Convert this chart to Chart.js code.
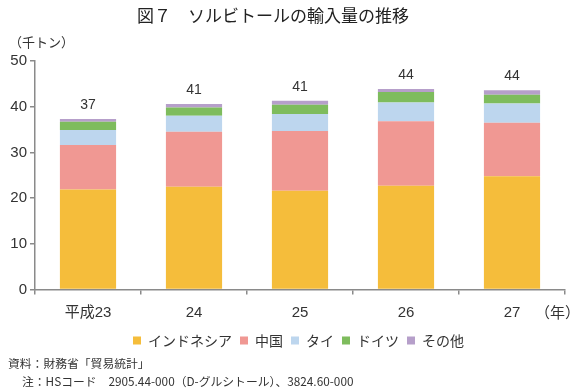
<!DOCTYPE html>
<html>
<head>
<meta charset="utf-8">
<script src="https://cdn.jsdelivr.net/npm/chart.js@4"></script>
<style>
  body { margin: 0; background: #fff; }
  #wrap { position: relative; width: 570px; height: 389px; font-family: "Liberation Sans", "Noto Sans CJK JP", sans-serif; color: #333; }
  .txt { position: absolute; line-height: 1; white-space: nowrap; }
  canvas { position: absolute; left: 0; top: 0; }
</style>
</head>
<body>
<div id="wrap">
  <canvas id="chart" width="570" height="389"></canvas>
  <div class="txt" style="left:137px; top:6px; font-size:17px; font-family:'Noto Sans CJK JP'; color:#222;">図７　ソルビトールの輸入量の推移</div>
  <div class="txt" style="left:9px; top:35px; font-size:13px; font-family:'Noto Sans CJK JP';">（千トン）</div>
  <div class="txt" style="left:535px; top:304px; font-size:15px; font-family:'Noto Sans CJK JP';">（年）</div>
  <div class="txt" style="left:8px; top:357px; font-size:11.8px; font-family:'Noto Sans CJK JP';">資料：財務省「貿易統計」</div>
  <div class="txt" style="left:22px; top:375px; font-size:11.8px; font-family:'Noto Sans CJK JP';">注：HSコード　2905.44-000（D-グルシトール）、3824.60-000</div>
</div>
<script>
var years = ["平成23", "24", "25", "26", "27"];
var indonesia = [21.9, 22.5, 21.6, 22.7, 24.8];
var china = [9.7, 12.0, 13.1, 14.1, 11.7];
var thai = [3.3, 3.5, 3.7, 4.1, 4.2];
var germany = [1.8, 1.8, 2.0, 2.3, 1.9];
var others = [0.6, 0.8, 0.9, 0.7, 1.0];
var yTicks = [0, 10, 20, 30, 40, 50];

var axisGray = "#8a8a8a";
var textColor = "#333333";

// totals written above each stacked bar
var totalsPlugin = {
    id: "totals",
    afterDatasetsDraw: function(chart) {
        var ctx = chart.ctx;
        var last = chart.getDatasetMeta(chart.data.datasets.length - 1);
        ctx.save();
        ctx.fillStyle = textColor;
        ctx.font = "14px 'Liberation Sans', sans-serif";
        ctx.textAlign = "center";
        ctx.textBaseline = "middle";
        last.data.forEach(function(bar, i) {
            var sum = 0;
            chart.data.datasets.forEach(function(ds) { sum += ds.data[i]; });
            ctx.fillText(Math.round(sum), bar.x, bar.y - 14);
        });
        ctx.restore();
    }
};

// nudge the legend so it sits centred like the original
var legendShift = {
    id: "legendShift",
    afterLayout: function(chart) {
        chart.legend.left += 32;
    }
};

var ctx = document.getElementById("chart").getContext("2d");
var chart = new Chart(ctx, {
    type: "bar",
    data: {
        labels: years,
        datasets: [
            { label: "インドネシア", data: indonesia, backgroundColor: "#F5BD3B" },
            { label: "中国", data: china, backgroundColor: "#F09893" },
            { label: "タイ", data: thai, backgroundColor: "#BDD6EE" },
            { label: "ドイツ", data: germany, backgroundColor: "#7EBC5D" },
            { label: "その他", data: others, backgroundColor: "#B69FCA" }
        ]
    },
    options: {
        responsive: false,
        devicePixelRatio: 1,
        animation: false,
        layout: { padding: { left: 0, right: 5, top: 61, bottom: 31.5 } },
        datasets: { bar: { categoryPercentage: 1, barPercentage: 0.53, borderWidth: 0 } },
        plugins: {
            tooltip: { enabled: false },
            legend: {
                position: "bottom",
                labels: {
                    boxWidth: 8,
                    boxHeight: 8,
                    padding: 8,
                    color: textColor,
                    font: { size: 14, family: "'Noto Sans CJK JP', sans-serif" }
                }
            }
        },
        scales: {
            x: {
                stacked: true,
                border: { color: axisGray, width: 1.5 },
                grid: { offset: true, drawOnChartArea: false, tickLength: 5, color: axisGray, lineWidth: 1.5 },
                ticks: { color: textColor, padding: 9, font: { size: 15, family: "'Liberation Sans', 'Noto Sans CJK JP', sans-serif" } },
                afterFit: function(scale) { scale.height = 36; }
            },
            y: {
                stacked: true,
                min: 0,
                max: 50,
                afterBuildTicks: function(scale) {
                    scale.ticks = yTicks.map(function(v) { return { value: v }; });
                },
                border: { color: axisGray, width: 1.5 },
                grid: { drawOnChartArea: false, tickLength: 5, color: axisGray, lineWidth: 1.5 },
                ticks: { color: textColor, padding: 3, font: { size: 15, family: "'Liberation Sans', sans-serif" } },
                afterFit: function(scale) { scale.width = 35; }
            }
        }
    },
    plugins: [totalsPlugin, legendShift]
});
</script>
</body>
</html>
